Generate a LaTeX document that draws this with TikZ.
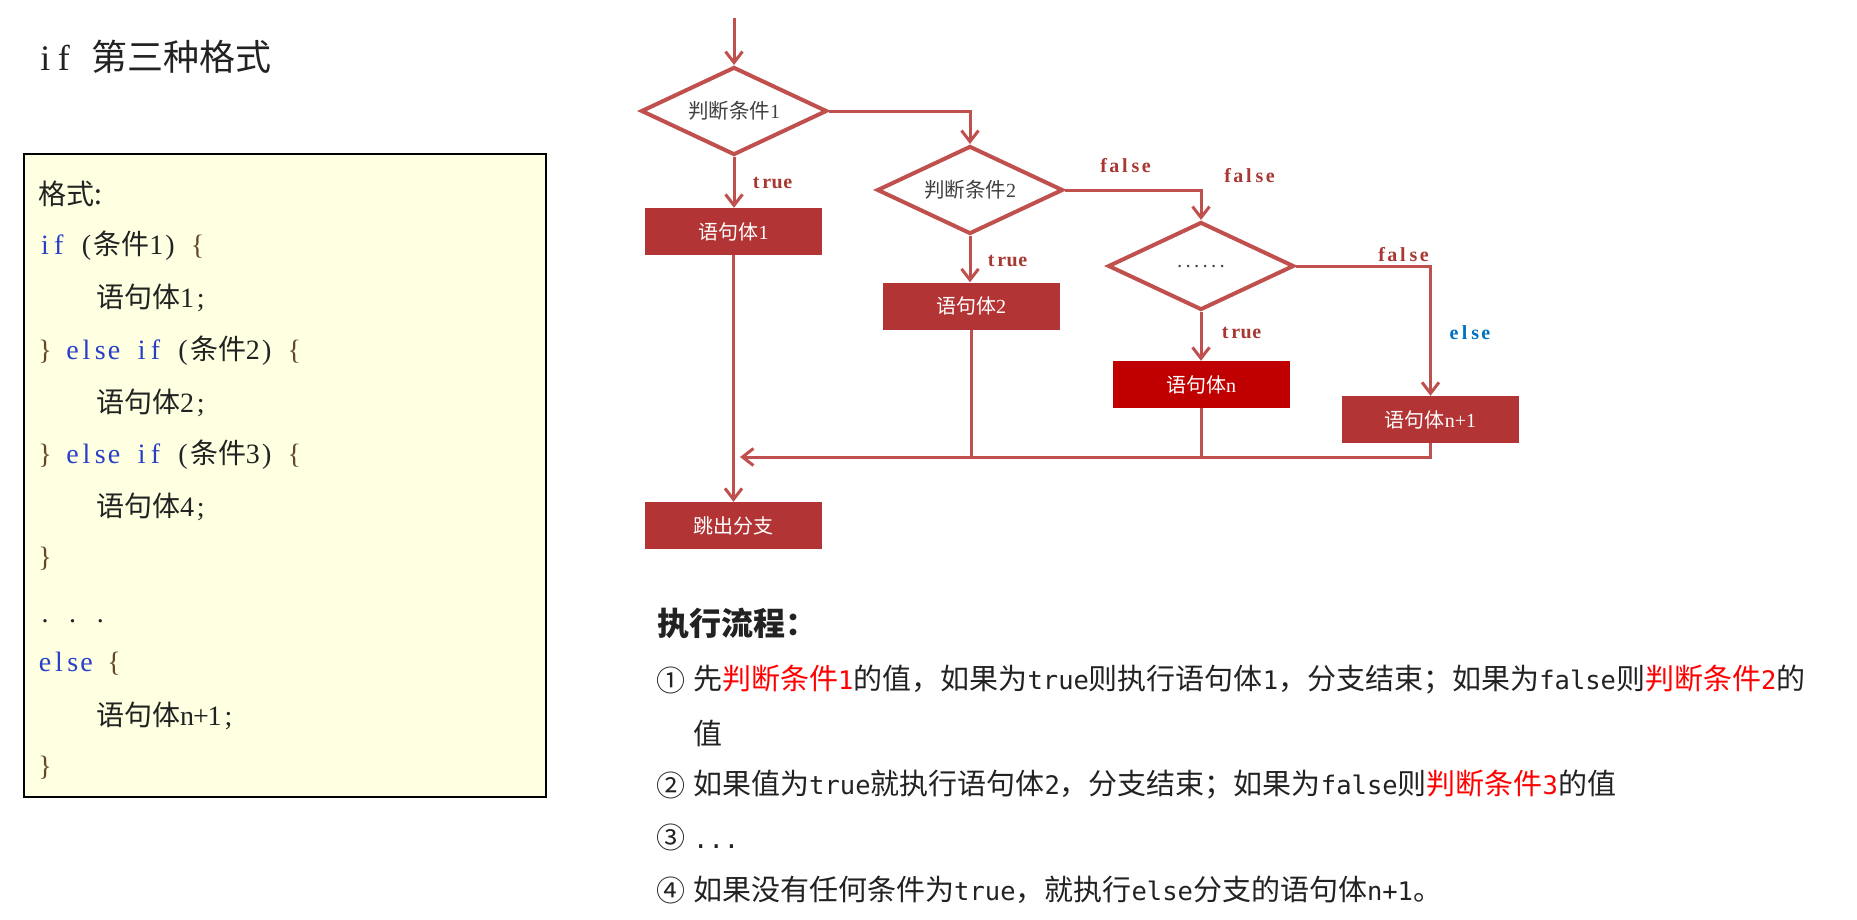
\documentclass[tikz,border=0pt]{standalone}
\usepackage{fontspec}
\usetikzlibrary{shapes.geometric,arrows.meta}
\setmainfont{Noto Sans CJK SC}
\newfontfamily\smono{DejaVu Sans Mono}
\newfontfamily\lserif{Liberation Serif}
\definecolor{lc}{RGB}{192,80,77}
\definecolor{bf}{RGB}{178,52,52}
\definecolor{bnf}{RGB}{192,0,0}
\definecolor{lblc}{RGB}{168,56,50}
\definecolor{elsec}{RGB}{0,112,192}
\definecolor{kwc}{RGB}{40,64,200}
\definecolor{brc}{RGB}{96,72,40}
\definecolor{codebg}{RGB}{255,255,225}
\definecolor{txt}{RGB}{34,34,34}
\definecolor{dtxt}{RGB}{64,64,64}
\definecolor{hl}{RGB}{255,0,0}
\newlength\mw
\def\mend{}
\def\mloop#1{\ifx#1\mend\else\makebox[\mw][c]{#1}\expandafter\mloop\fi}
% fixed-width serif latin (half-width style)
\newcommand\cm[1]{{\lserif\fontsize{28}{28}\selectfont\setlength\mw{13.8pt}\mloop#1\mend}}
\newcommand\kw[1]{{\color{kwc}\cm{#1}}}
\newcommand\br[1]{{\color{brc}\cm{#1}}}
\newcommand\lb[1]{{\lserif\bfseries\fontsize{20}{20}\selectfont\setlength\mw{10.6pt}\mloop#1\mend}}
\newcommand\sm[1]{{\smono\fontsize{25.5}{25.5}\selectfont #1}}
\newcommand\fs[1]{{\lserif\fontsize{20}{20}\selectfont #1}}
\newcommand\hlt[1]{{\color{hl}#1}}
\begin{document}
\begin{tikzpicture}[x=1pt,y=-1pt,
  conn/.style={draw=lc,line width=3pt},
  arr/.style={-{Straight Barb[length=11pt,width=17pt]}},
  dia/.style={diamond,aspect=2.11,draw=lc,line width=4pt,fill=white,minimum width=186pt,minimum height=88pt,inner sep=0pt,text=dtxt,font=\fontsize{20.5}{20.5}\selectfont},
  box/.style={rectangle,fill=bf,minimum width=177pt,minimum height=47pt,inner sep=0pt,text=white,font=\fontsize{20}{20}\selectfont},
  lbl/.style={inner sep=0pt,text=lblc},
  code/.style={anchor=west,inner sep=0pt,text=txt,font=\fontsize{28}{28}\selectfont},
  flow/.style={anchor=west,inner sep=0pt,text=txt,font=\fontsize{29}{29}\selectfont}
]
\useasboundingbox (0,0) rectangle (1857,919);

% ---------- left panel ----------
\node[anchor=west,inner sep=0pt,text=txt,font=\fontsize{36}{36}\selectfont] (title) at (36,57) {{\lserif\fontsize{36}{36}\selectfont\setlength\mw{18.5pt}\mloop if\ \mend}第三种格式};

\node[draw=black,line width=2pt,fill=codebg,anchor=north west,minimum width=522pt,minimum height=643pt,inner sep=0pt,outer sep=0pt] (codebox) at (24,154) {};

\node[code] (c0) at (38,194) {格式:};
\node[code] (c1) at (38,246) {\kw{if}\cm{\ (}条件\cm{1)\ }\br{\{}};
\node[code] (c2) at (96,298) {语句体\cm{1;}};
\node[code] (c3) at (38,351) {\br{\}}\cm{\ }\kw{else\ if}\cm{\ (}条件\cm{2)\ }\br{\{}};
\node[code] (c4) at (96,403) {语句体\cm{2;}};
\node[code] (c5) at (38,455) {\br{\}}\cm{\ }\kw{else\ if}\cm{\ (}条件\cm{3)\ }\br{\{}};
\node[code] (c6) at (96,507) {语句体\cm{4;}};
\node[code] (c7) at (38,559) {\br{\}}};
\node[code] (c8) at (38,612) {\vphantom{语}\cm{.\ .\ .}};
\node[code] (c9) at (38,664) {\kw{else}\cm{\ }\br{\{}};
\node[code] (c10) at (96,716) {语句体\cm{n+1;}};
\node[code] (c11) at (38,768) {\br{\}}};

% ---------- flowchart ----------
\coordinate (start) at (734,18);
\node[dia] (d1) at (734,111) {判断条件\fs{1}};
\node[dia] (d2) at (970,190) {判断条件\fs{2}};
\node[dia] (d3) at (1201,266) {\raisebox{-4pt}{\lserif\bfseries\fontsize{15}{15}\selectfont\setlength\mw{8.5pt}\mloop......\mend}};
\node[box] (b1) at (733.5,231.5) {语句体\fs{1}};
\node[box] (b2) at (971,306) {语句体\fs{2}};
\node[box,fill=bnf] (bn) at (1201,384.5) {语句体\fs{n}};
\node[box] (bn1) at (1430.5,419.5) {语句体\fs{n+1}};
\node[box] (bj) at (733.5,525.5) {跳出分支};
\coordinate (m) at (740,457);

\draw[conn,arr] (start) -- (d1.north);
\draw[conn,arr] (d1.east) -| (d2.north);
\draw[conn,arr] (d1.south) -- (d1.south |- b1.north);
\draw[conn,arr] (d2.east) -| (d3.north);
\draw[conn,arr] (d2.south) -- (d2.south |- b2.north);
\draw[conn,arr] (d3.south) -- (d3.south |- bn.north);
\draw[conn,arr] (d3.east) -| (bn1.north);
\draw[conn,arr] (b1.south) -- (bj.north);
\draw[conn] (b2.south) -- (b2.south |- m);
\draw[conn] (bn.south) -- (bn.south |- m);
\draw[conn,arr] (bn1.south) |- (m);

\node[lbl] (l1) at (772,183) {\lb{true}};
\node[lbl] (l2) at (1007,261) {\lb{true}};
\node[lbl] (l3) at (1241,333) {\lb{true}};
\node[lbl] (f1) at (1125,166) {\lb{false}};
\node[lbl] (f2) at (1249,176) {\lb{false}};
\node[lbl] (f3) at (1403,255) {\lb{false}};
\node[lbl,text=elsec] (e1) at (1470,333) {\lb{else}};

% ---------- execution flow ----------
\node[flow,font=\bfseries\fontsize{32}{32}\selectfont] (h) at (657,623) {执行流程：};
\node[flow] (n1) at (656,680) {①};
\node[flow] (t1) at (693,680) {先\hlt{判断条件\sm{1}}的值，如果为\sm{true}则执行语句体\sm{1}，分支结束；如果为\sm{false}则\hlt{判断条件\sm{2}}的};
\node[flow] (t1b) at (693,733) {值};
\node[flow] (n2) at (656,785) {②};
\node[flow] (t2) at (693,785) {如果值为\sm{true}就执行语句体\sm{2}，分支结束；如果为\sm{false}则\hlt{判断条件\sm{3}}的值};
\node[flow] (n3) at (656,837) {③};
\node[flow] (t3) at (693,837) {\vphantom{值}\sm{...}};
\node[flow] (n4) at (656,890) {④};
\node[flow] (t4) at (693,890) {如果没有任何条件为\sm{true}，就执行\sm{else}分支的语句体\sm{n+1}。};
\end{tikzpicture}
\end{document}
